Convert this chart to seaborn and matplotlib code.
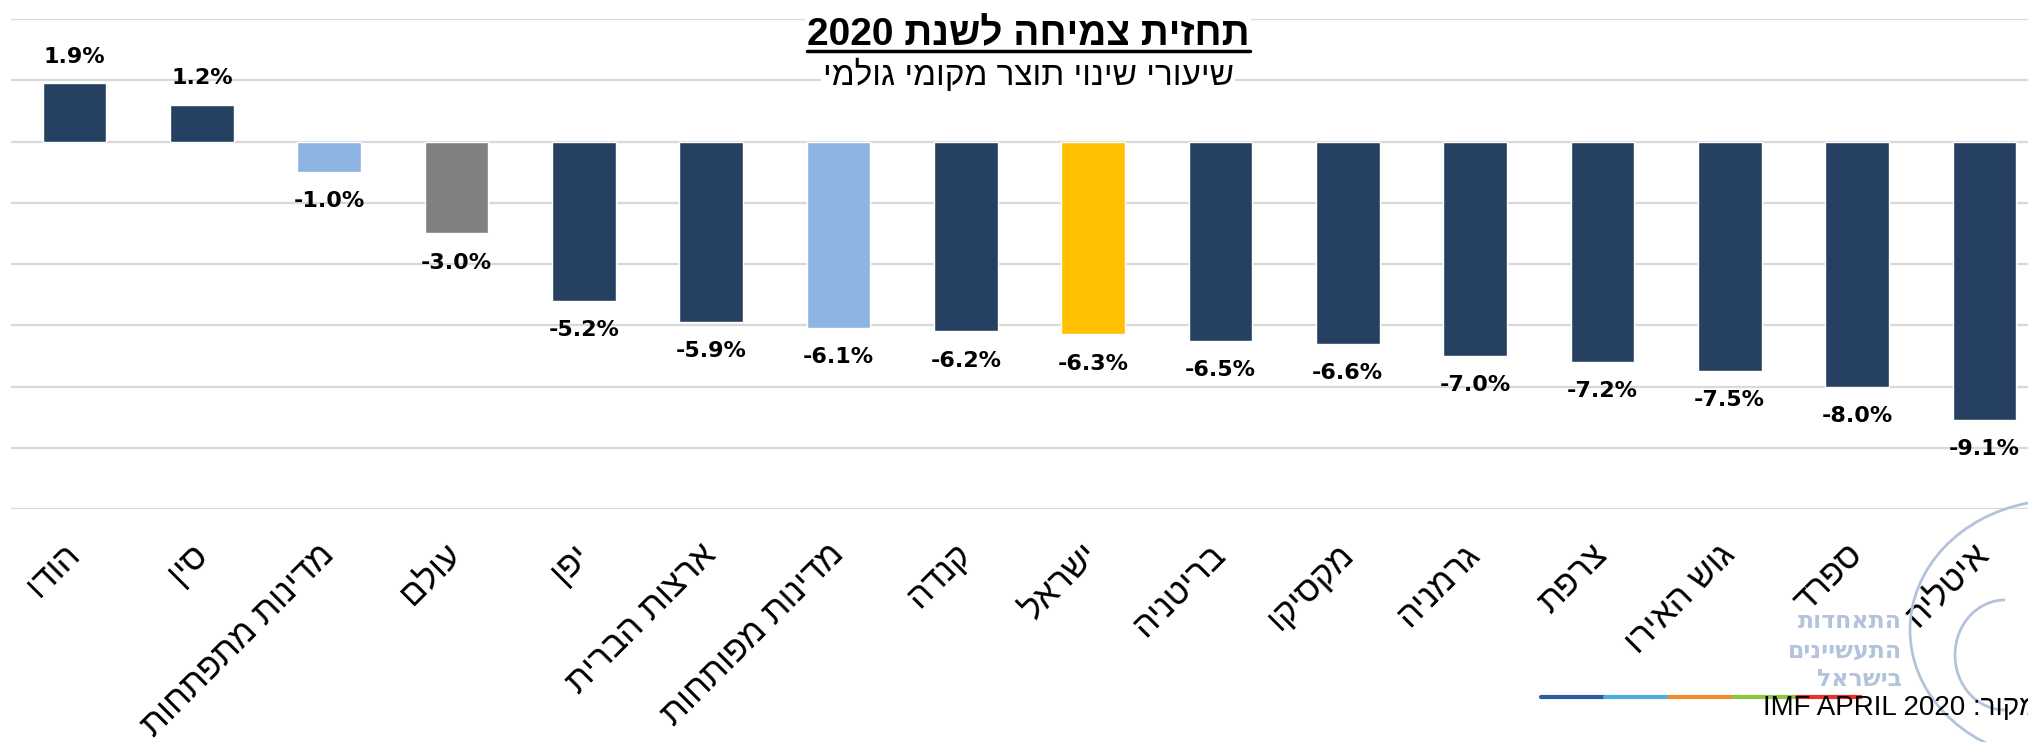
import matplotlib
matplotlib.use("Agg")
import matplotlib.pyplot as plt
from matplotlib.lines import Line2D
from matplotlib.patches import Arc
import seaborn as sns

# data (logical Hebrew order)
countries = ["הודו", "סין", "מדינות מתפתחות", "עולם", "יפן", "ארצות הברית",
             "מדינות מפותחות", "קנדה", "ישראל", "בריטניה", "מקסיקו", "גרמניה",
             "צרפת", "גוש האירו", "ספרד", "איטליה"]
growth = [1.9, 1.2, -1.0, -3.0, -5.2, -5.9, -6.1, -6.2, -6.3, -6.5, -6.6,
          -7.0, -7.2, -7.5, -8.0, -9.1]
groups = ["country", "country", "emerging", "world", "country", "country",
          "emerging", "country", "israel", "country", "country", "country",
          "country", "country", "country", "country"]
group_colors = {"country": "#264061", "emerging": "#8EB4E3",
                "world": "#808080", "israel": "#FFC000"}

title_text = "תחזית צמיחה לשנת"
title_year = "2020"
subtitle_text = "שיעורי שינוי תוצר מקומי גולמי"
source_label = "מקור"
source_text = "IMF APRIL 2020"
logo_lines = ["התאחדות", "התעשיינים", "בישראל"]


def rtl(s):
    # matplotlib has no bidi support: reverse Hebrew into visual order
    return s[::-1]


sns.set_style("white")
plt.rcParams["font.family"] = ["Liberation Sans", "DejaVu Sans"]
plt.rcParams["text.color"] = "black"
plt.rcParams["xtick.color"] = "black"

labels = [rtl(c) for c in countries]
palette = [group_colors[g] for g in groups]

fig = plt.figure(figsize=(20.28, 7.42), dpi=100)
ax = fig.add_axes([11 / 2028, 233 / 742, 2037 / 2028, 490 / 742])

sns.barplot(x=labels, y=growth, hue=labels, palette=palette, legend=False,
            width=0.5, saturation=1, ax=ax)

ax.set_ylim(-12, 4)
ax.set_yticks(range(-12, 5, 2))
ax.set_yticklabels([])
ax.yaxis.grid(True, color="#D9D9D9", linewidth=1.6)
ax.set_axisbelow(True)
ax.tick_params(axis="both", length=0)
sns.despine(ax=ax, left=True, bottom=True)
ax.set_xlabel("")
ax.set_ylabel("")

for lab in ax.get_xticklabels():
    lab.set_rotation(45)
    lab.set_ha("right")
    lab.set_va("center")
    lab.set_rotation_mode("anchor")
    lab.set_fontsize(25)
ax.tick_params(axis="x", pad=29)

for i, v in enumerate(growth):
    off = 19 if v >= 0 else -21
    ax.annotate(f"{v:.1f}%", (i, v), xytext=(0, off), textcoords="offset points",
                ha="center", va="center", fontsize=16, fontweight="bold",
                family="DejaVu Sans")

white_box = dict(facecolor="white", edgecolor="none", pad=1)
t = fig.text(0.507, 1 - 45 / 742, title_year + " " + rtl(title_text), ha="center",
             va="baseline", fontsize=28, fontweight="bold", bbox=white_box)
fig.text(0.507, 1 - 85 / 742, rtl(subtitle_text), ha="center", va="baseline",
         fontsize=24, bbox=white_box)

# logo: text, outline and coloured strip
logo_color = "#B4C3DC"
for k, line in enumerate(logo_lines):
    fig.text(1902 / 2028, 1 - (621 + 29 * k) / 742, rtl(line), ha="right",
             va="center", fontsize=17, fontweight="bold", color=logo_color,
             family="DejaVu Sans")
fig.add_artist(Arc((2060 / 2028, 1 - 630 / 742), 300 / 2028, 260 / 742,
                   theta1=95, theta2=265, color=logo_color, linewidth=2,
                   transform=fig.transFigure))
fig.add_artist(Arc((2005 / 2028, 1 - 655 / 742), 100 / 2028, 110 / 742,
                   theta1=90, theta2=270, color=logo_color, linewidth=2,
                   transform=fig.transFigure))
strip = ["#2E5C9A", "#4BACE0", "#F28C28", "#8DC63F", "#E8312F"]
for k, c in enumerate(strip):
    x0 = (1541 + 64 * k) / 2028
    fig.add_artist(Line2D([x0, x0 + 64 / 2028], [1 - 697 / 742] * 2,
                          color=c, linewidth=3))

fig.text(1763 / 2028, 1 - 708 / 742, source_text + " :" + rtl(source_label),
         ha="left", va="center", fontsize=20)

# underline the title
fig.canvas.draw()
bb = t.get_window_extent().transformed(fig.transFigure.inverted())
fig.add_artist(Line2D([bb.x0, bb.x1], [1 - 51 / 742] * 2, color="black",
                      linewidth=2.5, zorder=10))

fig.savefig("out.png", dpi=100)
